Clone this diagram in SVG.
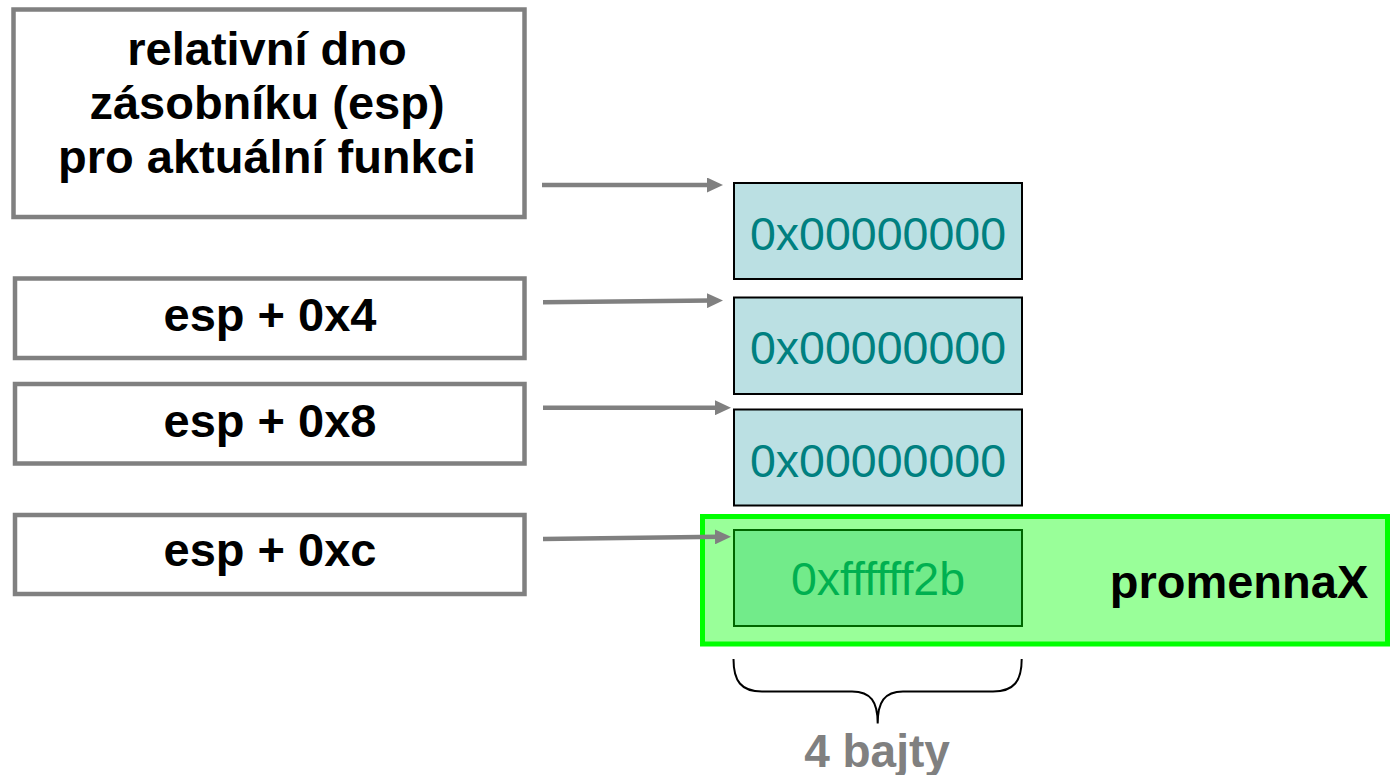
<svg xmlns="http://www.w3.org/2000/svg" width="1390" height="775" viewBox="0 0 1390 775">
<defs>
<style>
.lbl{fill:#fff;stroke:#808080;stroke-width:4.5}
.cell{fill:#BBE0E3;stroke:#000;stroke-width:2}
.bt{font-family:"Liberation Sans",Arial,sans-serif;font-weight:bold;font-size:47px;fill:#000;text-anchor:middle}
.hex{font-family:"Liberation Sans",Arial,sans-serif;font-size:46.5px;fill:#008080;text-anchor:middle}
.conn line{stroke:#808080;stroke-width:4.5;marker-end:url(#ah)}
</style>
<marker id="ah" markerUnits="userSpaceOnUse" markerWidth="16" markerHeight="15" refX="4" refY="7.5" orient="auto">
<path d="M0,0 L16,7.5 L0,15 Z" fill="#808080"/>
</marker>
</defs>
<rect width="1390" height="775" fill="#fff"/>

<g id="label-base">
<rect class="lbl" x="13.5" y="9.5" width="511" height="207.5"/>
<text class="bt" x="267" y="65">relativní dno</text>
<text class="bt" x="267" y="119">zásobníku (esp)</text>
<text class="bt" x="267" y="173">pro aktuální funkci</text>
</g>
<g id="label-esp4">
<rect class="lbl" x="15" y="278.5" width="509.5" height="79.5"/>
<text class="bt" x="270" y="331">esp + 0x4</text>
</g>
<g id="label-esp8">
<rect class="lbl" x="15" y="384" width="509.5" height="79.5"/>
<text class="bt" x="270" y="437">esp + 0x8</text>
</g>
<g id="label-espc">
<rect class="lbl" x="15" y="515" width="509.5" height="79"/>
<text class="bt" x="270" y="566">esp + 0xc</text>
</g>

<g id="cell-0">
<rect class="cell" x="734" y="183" width="288" height="96"/>
<text class="hex" x="878" y="249.5">0x00000000</text>
</g>
<g id="cell-4">
<rect class="cell" x="734" y="297.5" width="288" height="96.5"/>
<text class="hex" x="878" y="364">0x00000000</text>
</g>
<g id="cell-8">
<rect class="cell" x="734" y="409.5" width="288" height="96"/>
<text class="hex" x="878" y="476.5">0x00000000</text>
</g>

<g id="promennaX">
<rect x="702.5" y="516.5" width="685" height="127.5" fill="#99FF99" stroke="#00FF00" stroke-width="5"/>
<rect x="734" y="530" width="288" height="96" fill="#72EB8A" stroke="#006600" stroke-width="2"/>
<text class="hex" x="878" y="595" style="fill:#00B050">0xffffff2b</text>
<text class="bt" x="1239" y="598">promennaX</text>
</g>

<g id="brace">
<path d="M733.5,659 C733.5,681 741,691.5 762,691.5 L852,691.5 C871,691.5 877.7,702 877.7,723.5 C877.7,702 884.5,691.5 903,691.5 L993,691.5 C1014,691.5 1021.7,681 1021.7,659" fill="none" stroke="#000" stroke-width="2"/>
<text class="bt" x="877" y="767" style="fill:#808080;font-size:46px">4 bajty</text>
</g>

<g id="connectors" class="conn">
<line x1="542" y1="185" x2="711" y2="185"/>
<line x1="543" y1="302.3" x2="711" y2="300.6"/>
<line x1="543" y1="407.7" x2="719" y2="407.7"/>
<line x1="543" y1="539" x2="719" y2="536.8"/>
</g>
</svg>
